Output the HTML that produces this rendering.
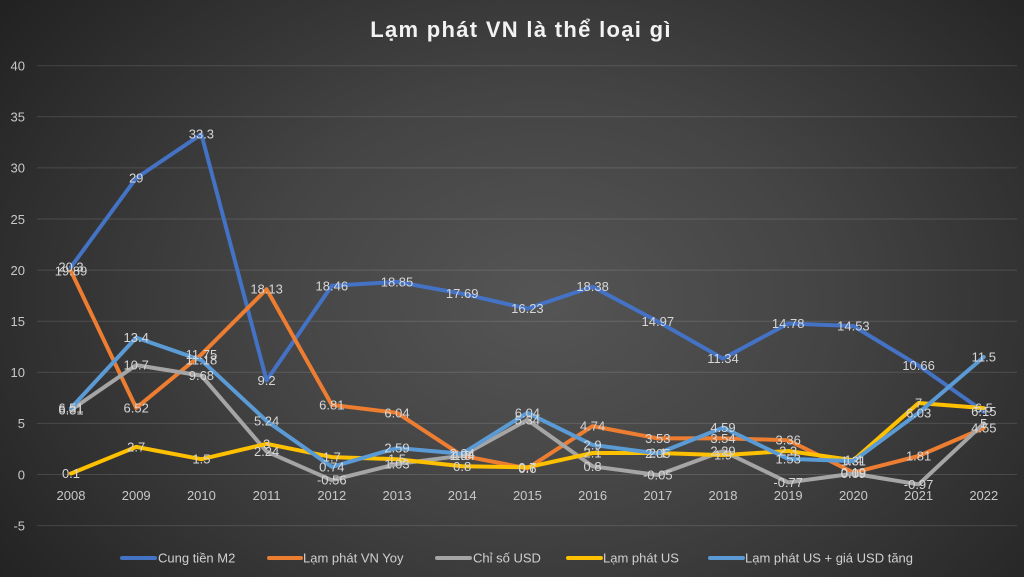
<!DOCTYPE html>
<html>
<head>
<meta charset="utf-8">
<style>
html,body{margin:0;padding:0;}
body{width:1024px;height:577px;overflow:hidden;
background:radial-gradient(ellipse 70% 90% at 53% 52%, #555555 0%, #444444 40%, #2e2e2e 75%, #1e1e1e 100%);
font-family:"Liberation Sans","DejaVu Sans",sans-serif;}
svg{display:block;}
</style>
</head>
<body>
<svg width="1024" height="577" viewBox="0 0 1024 577" xmlns="http://www.w3.org/2000/svg" font-family="Liberation Sans, DejaVu Sans, sans-serif">
<text x="521" y="37" text-anchor="middle" font-size="22" font-weight="bold" fill="#f2f2f2" letter-spacing="1.3">Lạm phát VN là thể loại gì</text>

<g stroke="rgba(255,255,255,0.13)" stroke-width="1">
<line x1="37" y1="65.7" x2="1017" y2="65.7"/>
<line x1="37" y1="116.8" x2="1017" y2="116.8"/>
<line x1="37" y1="167.9" x2="1017" y2="167.9"/>
<line x1="37" y1="219" x2="1017" y2="219"/>
<line x1="37" y1="270.1" x2="1017" y2="270.1"/>
<line x1="37" y1="321.2" x2="1017" y2="321.2"/>
<line x1="37" y1="372.3" x2="1017" y2="372.3"/>
<line x1="37" y1="423.4" x2="1017" y2="423.4"/>
<line x1="37" y1="474.5" x2="1017" y2="474.5"/>
<line x1="37" y1="525.6" x2="1017" y2="525.6"/>
</g>

<g font-size="13" fill="#c8c8c8" text-anchor="end">
<text x="25" y="70.5">40</text>
<text x="25" y="121.6">35</text>
<text x="25" y="172.7">30</text>
<text x="25" y="223.8">25</text>
<text x="25" y="274.9">20</text>
<text x="25" y="326">15</text>
<text x="25" y="377.1">10</text>
<text x="25" y="428.2">5</text>
<text x="25" y="479.3">0</text>
<text x="25" y="530.4">-5</text>
</g>

<g font-size="13" fill="#c8c8c8" text-anchor="middle">
<text x="71" y="500">2008</text>
<text x="136.2" y="500">2009</text>
<text x="201.4" y="500">2010</text>
<text x="266.6" y="500">2011</text>
<text x="331.8" y="500">2012</text>
<text x="397" y="500">2013</text>
<text x="462.2" y="500">2014</text>
<text x="527.4" y="500">2015</text>
<text x="592.6" y="500">2016</text>
<text x="657.8" y="500">2017</text>
<text x="723" y="500">2018</text>
<text x="788.2" y="500">2019</text>
<text x="853.4" y="500">2020</text>
<text x="918.6" y="500">2021</text>
<text x="983.8" y="500">2022</text>
</g>

<g fill="none" stroke-width="4" stroke-linejoin="round" stroke-linecap="round">
<polyline stroke="#4472C4" points="71,267 136.2,178.1 201.4,134.2 266.6,380.5 331.8,285.8 397,281.9 462.2,293.7 527.4,308.6 592.6,286.7 657.8,321.5 723,358.6 788.2,323.5 853.4,326 918.6,365.6 983.8,411.6"/>
<polyline stroke="#ED7D31" points="71,271.2 136.2,407.9 201.4,354.4 266.6,289.2 331.8,404.9 397,412.8 462.2,455.7 527.4,468.4 592.6,426.1 657.8,438.4 723,438.3 788.2,440.2 853.4,472.6 918.6,456 983.8,428"/>
<polyline stroke="#A5A5A5" points="71,410 136.2,365.1 201.4,375.6 266.6,451.6 331.8,480.2 397,464 462.2,455.7 527.4,419.9 592.6,466.3 657.8,475 723,451.1 788.2,482.4 853.4,473.6 918.6,484.4 983.8,423.4"/>
<polyline stroke="#FFC000" points="71,473.5 136.2,446.9 201.4,459.2 266.6,443.8 331.8,457.1 397,459.2 462.2,466.3 527.4,467.3 592.6,453 657.8,453 723,455.1 788.2,451 853.4,460.2 918.6,403 983.8,408.1"/>
<polyline stroke="#5B9BD5" points="71,408 136.2,337.6 201.4,360.2 266.6,421 331.8,466.9 397,448 462.2,453.7 527.4,412.8 592.6,444.9 657.8,453.5 723,427.6 788.2,458.9 853.4,461.1 918.6,412.9 983.8,357"/>
</g>

<g font-size="13" fill="#d6d6d6" text-anchor="middle">
<!-- M2 -->
<text x="71" y="271.5">20.3</text>
<text x="136.2" y="182.6">29</text>
<text x="201.4" y="138.7">33.3</text>
<text x="266.6" y="385">9.2</text>
<text x="331.8" y="290.3">18.46</text>
<text x="397" y="286.4">18.85</text>
<text x="462.2" y="298.2">17.69</text>
<text x="527.4" y="313.1">16.23</text>
<text x="592.6" y="291.2">18.38</text>
<text x="657.8" y="326">14.97</text>
<text x="723" y="363.1">11.34</text>
<text x="788.2" y="328">14.78</text>
<text x="853.4" y="330.5">14.53</text>
<text x="918.6" y="370.1">10.66</text>
<text x="983.8" y="416.1">6.15</text>
<!-- Orange -->
<text x="71" y="275.7">19.89</text>
<text x="136.2" y="412.4">6.52</text>
<text x="201.4" y="358.9">11.75</text>
<text x="266.6" y="293.7">18.13</text>
<text x="331.8" y="409.4">6.81</text>
<text x="397" y="417.3">6.04</text>
<text x="462.2" y="460.2">1.84</text>
<text x="527.4" y="472.9">0.6</text>
<text x="592.6" y="430.6">4.74</text>
<text x="657.8" y="442.9">3.53</text>
<text x="723" y="442.8">3.54</text>
<text x="788.2" y="444.7">3.36</text>
<text x="853.4" y="477.1">0.19</text>
<text x="918.6" y="460.5">1.81</text>
<text x="983.8" y="432.5">4.55</text>
<!-- Gray -->
<text x="71" y="414.5">6.31</text>
<text x="136.2" y="369.6">10.7</text>
<text x="201.4" y="380.1">9.68</text>
<text x="266.6" y="456.1">2.24</text>
<text x="331.8" y="484.7">-0.56</text>
<text x="397" y="468.5">1.03</text>
<text x="462.2" y="460.2">1.8</text>
<text x="527.4" y="424.4">5.34</text>
<text x="592.6" y="470.8">0.8</text>
<text x="657.8" y="479.5">-0.05</text>
<text x="723" y="455.6">2.29</text>
<text x="788.2" y="486.9">-0.77</text>
<text x="853.4" y="478.1">0.09</text>
<text x="918.6" y="488.9">-0.97</text>
<text x="983.8" y="427.9">5</text>
<!-- Yellow -->
<text x="71" y="478">0.1</text>
<text x="136.2" y="451.4">2.7</text>
<text x="201.4" y="463.7">1.5</text>
<text x="266.6" y="448.3">3</text>
<text x="331.8" y="461.6">1.7</text>
<text x="397" y="463.7">1.5</text>
<text x="462.2" y="470.8">0.8</text>
<text x="527.4" y="471.8">0.7</text>
<text x="592.6" y="457.5">2.1</text>
<text x="657.8" y="457.5">2.1</text>
<text x="723" y="459.6">1.9</text>
<text x="788.2" y="455.5">2.3</text>
<text x="853.4" y="464.7">1.4</text>
<text x="918.6" y="407.5">7</text>
<text x="983.8" y="412.6">6.5</text>
<!-- Light blue -->
<text x="71" y="412.5">6.51</text>
<text x="136.2" y="342.1">13.4</text>
<text x="201.4" y="364.7">11.18</text>
<text x="266.6" y="425.5">5.24</text>
<text x="331.8" y="471.4">0.74</text>
<text x="397" y="452.5">2.59</text>
<text x="462.2" y="458.2">2.04</text>
<text x="527.4" y="417.3">6.04</text>
<text x="592.6" y="449.4">2.9</text>
<text x="657.8" y="458">2.05</text>
<text x="723" y="432.1">4.59</text>
<text x="788.2" y="463.4">1.53</text>
<text x="853.4" y="465.6">1.31</text>
<text x="918.6" y="417.4">6.03</text>
<text x="983.8" y="361.5">11.5</text>
</g>

<g stroke-width="4" stroke-linecap="round">
<line x1="122" y1="558" x2="155" y2="558" stroke="#4472C4"/>
<line x1="269" y1="558" x2="301" y2="558" stroke="#ED7D31"/>
<line x1="437" y1="558" x2="470" y2="558" stroke="#A5A5A5"/>
<line x1="568" y1="558" x2="601" y2="558" stroke="#FFC000"/>
<line x1="710" y1="558" x2="743" y2="558" stroke="#5B9BD5"/>
</g>
<g font-size="13" fill="#d0d0d0">
<text x="158" y="562.5">Cung tiền M2</text>
<text x="303" y="562.5">Lạm phát VN Yoy</text>
<text x="473" y="562.5">Chỉ số USD</text>
<text x="603" y="562.5">Lạm phát US</text>
<text x="745" y="562.5">Lạm phát US + giá USD tăng</text>
</g>
</svg>
</body>
</html>
